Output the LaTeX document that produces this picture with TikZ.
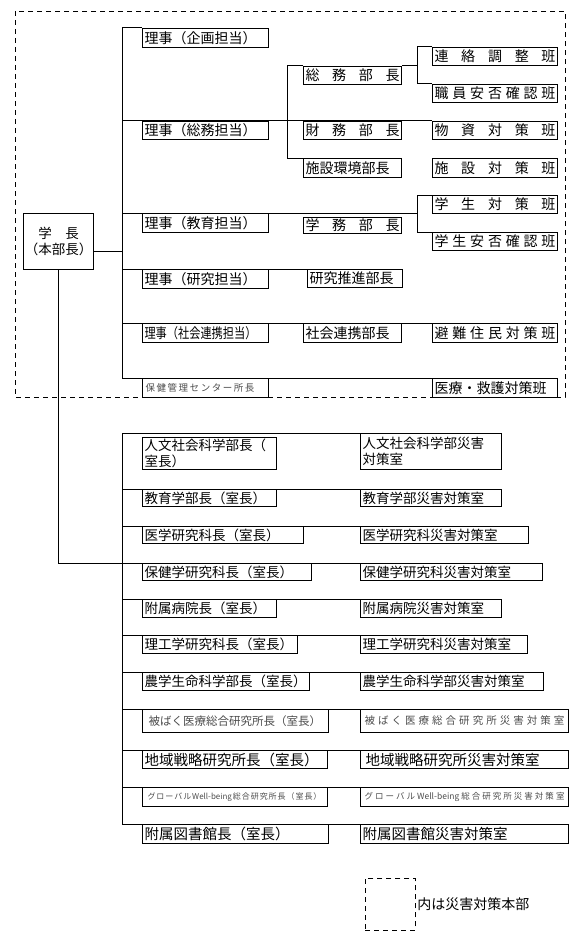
\documentclass[tikz,border=0pt]{standalone}
\usepackage{fontspec}
\usepackage{graphicx}
\usepackage{tikz}
\usetikzlibrary{positioning}
\newfontfamily\jpfont{Noto Sans CJK JP}

\begin{document}
\begin{tikzpicture}[
    x=1pt, y=-1pt,
    line width=1pt,
    postbox/.style={
        draw,
        anchor=north west,
        inner xsep=2pt,
        inner ysep=0pt,
        align=left,
        minimum height=18pt,
        font=\jpfont\fontsize{13.5}{16}\selectfont
    },
    hqbox/.style={postbox, font=\jpfont\fontsize{14}{16}\selectfont},
    faintbox/.style={postbox, text=black!70},
    hqframe/.style={dash pattern=on 5pt off 4pt, line width=0.8pt}
]
\useasboundingbox (0,0) rectangle (583,939);

% 災害対策本部
\draw[hqframe] (15,11) rectangle (565,397);

\coordinate (upbus) at (122,28);
\coordinate (bubus) at (287,66);
\coordinate (hanbus) at (417,47);
\coordinate (lowbus) at (122,433);

\node[draw, anchor=north west, minimum width=70pt, minimum height=56pt,
      inner sep=0pt, align=center, font=\jpfont\fontsize{13.5}{16}\selectfont]
    (gakucho) at (23,213) {学　長\\（本部長）};

% 理事
\node[hqbox, text width=122pt, minimum height=19pt] (kikaku) at (142,28) {理事（企画担当）};
\node[hqbox, text width=122pt] (somuriji) at (142,121) {理事（総務担当）};
\node[hqbox, text width=122pt, minimum height=19pt] (kyoikuriji) at (142,213) {理事（教育担当）};
\node[hqbox, text width=122pt, minimum height=19pt] (kenkyuriji) at (142,269) {理事（研究担当）};
\node[hqbox, text width=122pt, minimum height=19pt] (shakairiji) at (142,323) {\scalebox{0.8}[1]{理事（社会連携担当）}};
\node[faintbox, text width=122pt, minimum height=19pt, font=\jpfont\fontsize{9.5}{11}\selectfont]
    (hokencenter) at (142,378) {\hspace*{1pt}保\hfill 健\hfill 管\hfill 理\hfill セ\hfill ン\hfill タ\hfill ー\hfill 所\hfill 長\hspace*{12pt}};

% 部長
\node[hqbox, text width=94pt] (somubucho) at (303,66) {総\hfill 務\hfill 部\hfill 長\hspace*{10pt}};
\node[hqbox, text width=94pt] (zaimubucho) at (303,121) {財\hfill 務\hfill 部\hfill 長\hspace*{10pt}};
\node[hqbox, text width=94pt, minimum height=19pt] (shisetsubucho) at (303,158) {施設環境部長};
\node[hqbox, text width=94pt, minimum height=16pt] (gakumubucho) at (303,217) {学\hfill 務\hfill 部\hfill 長\hspace*{10pt}};
\node[hqbox, text width=91pt] (suishinbucho) at (307,269) {研究推進部長};
\node[hqbox, text width=94pt, minimum height=19pt] (shakaibucho) at (303,323) {社会連携部長};

% 班
\node[hqbox, text width=121pt] (renrakuhan) at (432,47) {連\hfill 絡\hfill 調\hfill 整\hfill 班\hspace*{8pt}};
\node[hqbox, text width=121pt] (anpihan) at (432,84) {職\hfill 員\hfill 安\hfill 否\hfill 確\hfill 認\hfill 班\hspace*{8pt}};
\node[hqbox, text width=121pt] (busshihan) at (432,121) {物\hfill 資\hfill 対\hfill 策\hfill 班\hspace*{8pt}};
\node[hqbox, text width=121pt, minimum height=19pt] (shisetsuhan) at (432,158) {施\hfill 設\hfill 対\hfill 策\hfill 班\hspace*{8pt}};
\node[hqbox, text width=121pt] (gakuseihan) at (432,195) {学\hfill 生\hfill 対\hfill 策\hfill 班\hspace*{8pt}};
\node[hqbox, text width=121pt] (gakuanpihan) at (432,232) {学\hfill 生\hfill 安\hfill 否\hfill 確\hfill 認\hfill 班\hspace*{8pt}};
\node[hqbox, text width=121pt, minimum height=19pt] (hinanhan) at (432,323) {避\hfill 難\hfill 住\hfill 民\hfill 対\hfill 策\hfill 班\hspace*{8pt}};
\node[hqbox, text width=121pt, minimum height=19pt] (iryohan) at (432,378) {医療・救護対策班};

% 部局長（室長）
\node[postbox, text width=130pt, minimum height=32pt] (jinbun) at (142,437) {人文社会科学部長（\\室長）};
\node[postbox, text width=130pt, minimum height=17pt] (kyoikugaku) at (142,489) {教育学部長（室長）};
\node[postbox, text width=157pt, minimum height=17pt] (igaku) at (142,526) {医学研究科長（室長）};
\node[postbox, text width=165pt, minimum height=17pt] (hokengaku) at (142,563) {保健学研究科長（室長）};
\node[postbox, text width=130pt] (byoin) at (142,599) {附属病院長（室長）};
\node[postbox, text width=151pt] (riko) at (142,635) {理工学研究科長（室長）};
\node[postbox, text width=163pt] (nogaku) at (142,672) {農学生命科学部長（室長）};
\node[faintbox, text width=182pt, minimum height=23pt, font=\jpfont\fontsize{11.5}{13}\selectfont]
    (hibaku) at (142,709) {\hspace*{4pt}被ばく医療総合研究所長（室長）};
\node[postbox, text width=181pt, font=\jpfont\fontsize{14.5}{17}\selectfont] (chiiki) at (142,750) {地域戦略研究所長（室長）};
\node[faintbox, text width=181pt, minimum height=19pt, font=\jpfont\fontsize{8}{10}\selectfont]
    (global) at (142,787) {\hspace*{3pt}グ\hfill ロ\hfill ー\hfill バ\hfill ル\hfill Well-being\hfill 総\hfill 合\hfill 研\hfill 究\hfill 所\hfill 長\hfill （\hfill 室\hfill 長\hfill ）\hspace*{4pt}};
\node[postbox, text width=182pt, minimum height=19pt, font=\jpfont\fontsize{14.5}{17}\selectfont] (tosho) at (142,824) {附属図書館長（室長）};

% 災害対策室
\node[postbox, text width=137pt, minimum height=36pt] (jinbunroom) at (360,433) {人文社会科学部災害\\対策室};
\node[postbox, text width=137pt, minimum height=17pt] (kyoikuroom) at (360,489) {教育学部災害対策室};
\node[postbox, text width=164pt, minimum height=17pt] (igakuroom) at (360,526) {医学研究科災害対策室};
\node[postbox, text width=178pt, minimum height=17pt] (hokenroom) at (360,563) {保健学研究科災害対策室};
\node[postbox, text width=137pt] (byoinroom) at (360,599) {附属病院災害対策室};
\node[postbox, text width=163pt] (rikoroom) at (360,635) {理工学研究科災害対策室};
\node[postbox, text width=179pt] (nogakuroom) at (360,672) {農学生命科学部災害対策室};
\node[faintbox, text width=204pt, minimum height=23pt, font=\jpfont\fontsize{10.5}{12}\selectfont]
    (hibakuroom) at (360,709) {\hspace*{2pt}被\hfill ば\hfill く\hfill 医\hfill 療\hfill 総\hfill 合\hfill 研\hfill 究\hfill 所\hfill 災\hfill 害\hfill 対\hfill 策\hfill 室\hspace*{2pt}};
\node[postbox, text width=204pt, font=\jpfont\fontsize{14.5}{17}\selectfont] (chiikiroom) at (360,750) {\hspace*{3pt}地域戦略研究所災害対策室};
\node[faintbox, text width=204pt, minimum height=19pt, font=\jpfont\fontsize{8.5}{10}\selectfont]
    (globalroom) at (360,787) {\hspace*{2pt}グ\hfill ロ\hfill ー\hfill バ\hfill ル\hfill Well-being\hfill 総\hfill 合\hfill 研\hfill 究\hfill 所\hfill 災\hfill 害\hfill 対\hfill 策\hfill 室\hspace*{2pt}};
\node[postbox, text width=204pt, minimum height=19pt, font=\jpfont\fontsize{14.5}{17}\selectfont] (toshoroom) at (360,824) {附属図書館災害対策室};

% 凡例
\node[draw, hqframe, anchor=north west, minimum width=50pt, minimum height=52pt, inner sep=0pt] (legendbox) at (365,878) {};
\node[right=1pt of legendbox, inner sep=0pt, font=\jpfont\fontsize{14}{16}\selectfont] (legendtext) {内は災害対策本部};

% 本部の線
\coordinate (gk) at ([yshift=-10pt]gakucho.east);
\draw (gk) -- (gk -| upbus);
\draw (kikaku.north west) -| (upbus |- hokencenter.north west) -- (iryohan.north west);
\draw (upbus |- somuriji.north west) -- (busshihan.north west);
\draw (upbus |- kyoikuriji.north west) -- (hanbus |- kyoikuriji.north west);
\draw (upbus |- kenkyuriji.north west) -- (suishinbucho.north west);
\draw (upbus |- shakairiji.north west) -- (hinanhan.north west);
\draw (somubucho.north west) -| (bubus |- shisetsubucho.north west) -- (shisetsubucho.north west);
\draw (somubucho.north east) -- (somubucho.north east -| hanbus);
\draw (renrakuhan.north west) -| (hanbus |- anpihan.north west) -- (anpihan.north west);
\draw (gakuseihan.north west) -| (hanbus |- gakuanpihan.north west) -- (gakuanpihan.north west);

% 部局の線
\draw (gakucho.south) |- (lowbus |- hokengaku.north west);
\draw (jinbunroom.north west) -| (lowbus |- toshoroom.north west) -- (toshoroom.north west);
\draw (lowbus |- kyoikuroom.north west) -- (kyoikuroom.north west);
\draw (lowbus |- igakuroom.north west) -- (igakuroom.north west);
\draw (lowbus |- hokenroom.north west) -- (hokenroom.north west);
\draw (lowbus |- byoinroom.north west) -- (byoinroom.north west);
\draw (lowbus |- rikoroom.north west) -- (rikoroom.north west);
\draw (lowbus |- nogakuroom.north west) -- (nogakuroom.north west);
\draw (lowbus |- hibakuroom.north west) -- (hibakuroom.north west);
\draw (lowbus |- chiikiroom.north west) -- (chiikiroom.north west);
\draw (lowbus |- globalroom.north west) -- (globalroom.north west);

\end{tikzpicture}
\end{document}
